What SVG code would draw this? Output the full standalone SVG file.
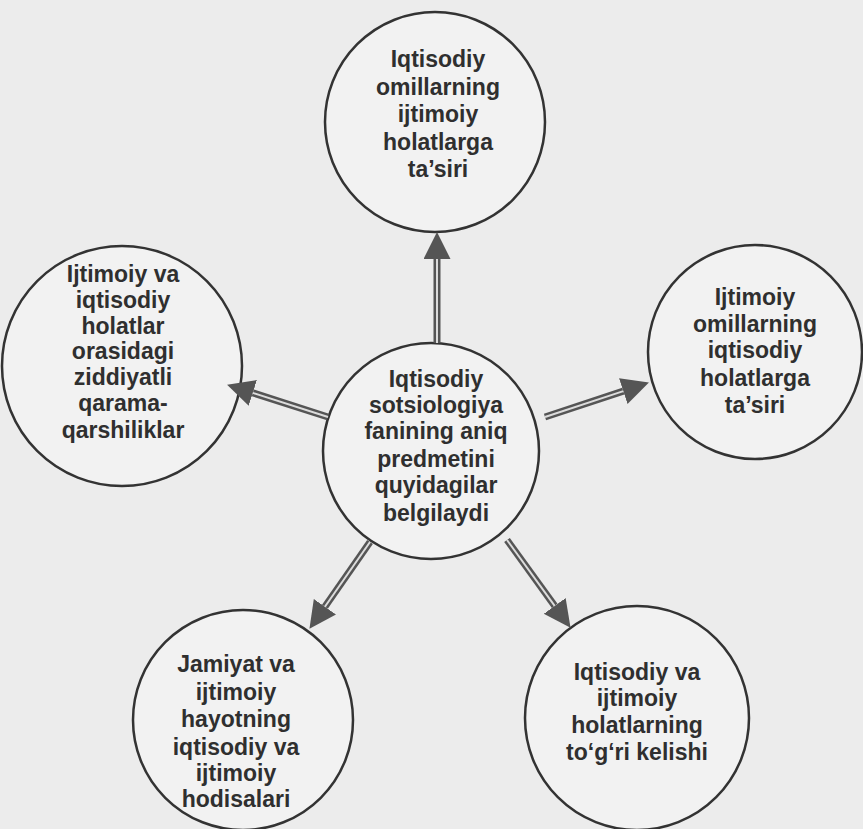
<svg xmlns="http://www.w3.org/2000/svg" width="863" height="829" viewBox="0 0 863 829">
<style>
.bg{fill:#ececec}
.node circle{fill:#f2f2f2;stroke:#333;stroke-width:2.5}
.node text{font-family:"Liberation Sans",Arial,sans-serif;font-weight:bold;font-size:23px;fill:#2f2f2f;text-anchor:middle}
.shaft{stroke:#555;stroke-width:7;fill:none}
.inner{stroke:#dcdcdc;stroke-width:2;fill:none}
</style>
<defs>
<marker id="head" markerUnits="userSpaceOnUse" markerWidth="28" markerHeight="28" refX="0" refY="13.5" orient="auto">
<path d="M0,0 L27,13.5 L0,27 Z" fill="#555"/>
</marker>
</defs>
<rect class="bg" x="0" y="0" width="863" height="829"/>
<g id="node-top" class="node">
<circle cx="435" cy="122" r="110"/>
<text x="438" y="67">Iqtisodiy</text>
<text x="438" y="95">omillarning</text>
<text x="438" y="122">ijtimoiy</text>
<text x="438" y="150">holatlarga</text>
<text x="438" y="177">ta’siri</text>
</g>
<g id="node-center" class="node">
<circle cx="431" cy="451" r="108"/>
<text x="436" y="387">Iqtisodiy</text>
<text x="436" y="413">sotsiologiya</text>
<text x="436" y="439">fanining aniq</text>
<text x="436" y="467">predmetini</text>
<text x="436" y="493">quyidagilar</text>
<text x="436" y="521">belgilaydi</text>
</g>
<g id="node-left" class="node">
<circle cx="122" cy="366" r="120"/>
<text x="123" y="282">Ijtimoiy va</text>
<text x="123" y="308">iqtisodiy</text>
<text x="123" y="334">holatlar</text>
<text x="123" y="359">orasidagi</text>
<text x="123" y="385">ziddiyatli</text>
<text x="123" y="411">qarama-</text>
<text x="123" y="438">qarshiliklar</text>
</g>
<g id="node-right" class="node">
<circle cx="755" cy="352" r="107"/>
<text x="755" y="305">Ijtimoiy</text>
<text x="755" y="332">omillarning</text>
<text x="755" y="358">iqtisodiy</text>
<text x="755" y="386">holatlarga</text>
<text x="755" y="413">ta’siri</text>
</g>
<g id="node-bottom-left" class="node">
<circle cx="243" cy="720" r="110"/>
<text x="236" y="672">Jamiyat va</text>
<text x="236" y="700">ijtimoiy</text>
<text x="236" y="727">hayotning</text>
<text x="236" y="755">iqtisodiy va</text>
<text x="236" y="781">ijtimoiy</text>
<text x="236" y="807">hodisalari</text>
</g>
<g id="node-bottom-right" class="node">
<circle cx="637" cy="718" r="112"/>
<text x="637" y="680">Iqtisodiy va</text>
<text x="637" y="706">ijtimoiy</text>
<text x="637" y="733">holatlarning</text>
<text x="637" y="760">to‘g‘ri kelishi</text>
</g>
<g id="connectors">
<line class="shaft" x1="437" y1="343" x2="437" y2="259" marker-end="url(#head)"/>
<line class="inner" x1="437" y1="343" x2="437" y2="259"/>
<line class="shaft" x1="328" y1="417" x2="252.8" y2="392.9" marker-end="url(#head)"/>
<line class="inner" x1="328" y1="417" x2="252.8" y2="392.9"/>
<line class="shaft" x1="545" y1="417" x2="623.3" y2="391.1" marker-end="url(#head)"/>
<line class="inner" x1="545" y1="417" x2="623.3" y2="391.1"/>
<line class="shaft" x1="370" y1="542" x2="324.9" y2="606.7" marker-end="url(#head)"/>
<line class="inner" x1="370" y1="542" x2="324.9" y2="606.7"/>
<line class="shaft" x1="507" y1="540" x2="554.7" y2="605.9" marker-end="url(#head)"/>
<line class="inner" x1="507" y1="540" x2="554.7" y2="605.9"/>
</g>
</svg>
